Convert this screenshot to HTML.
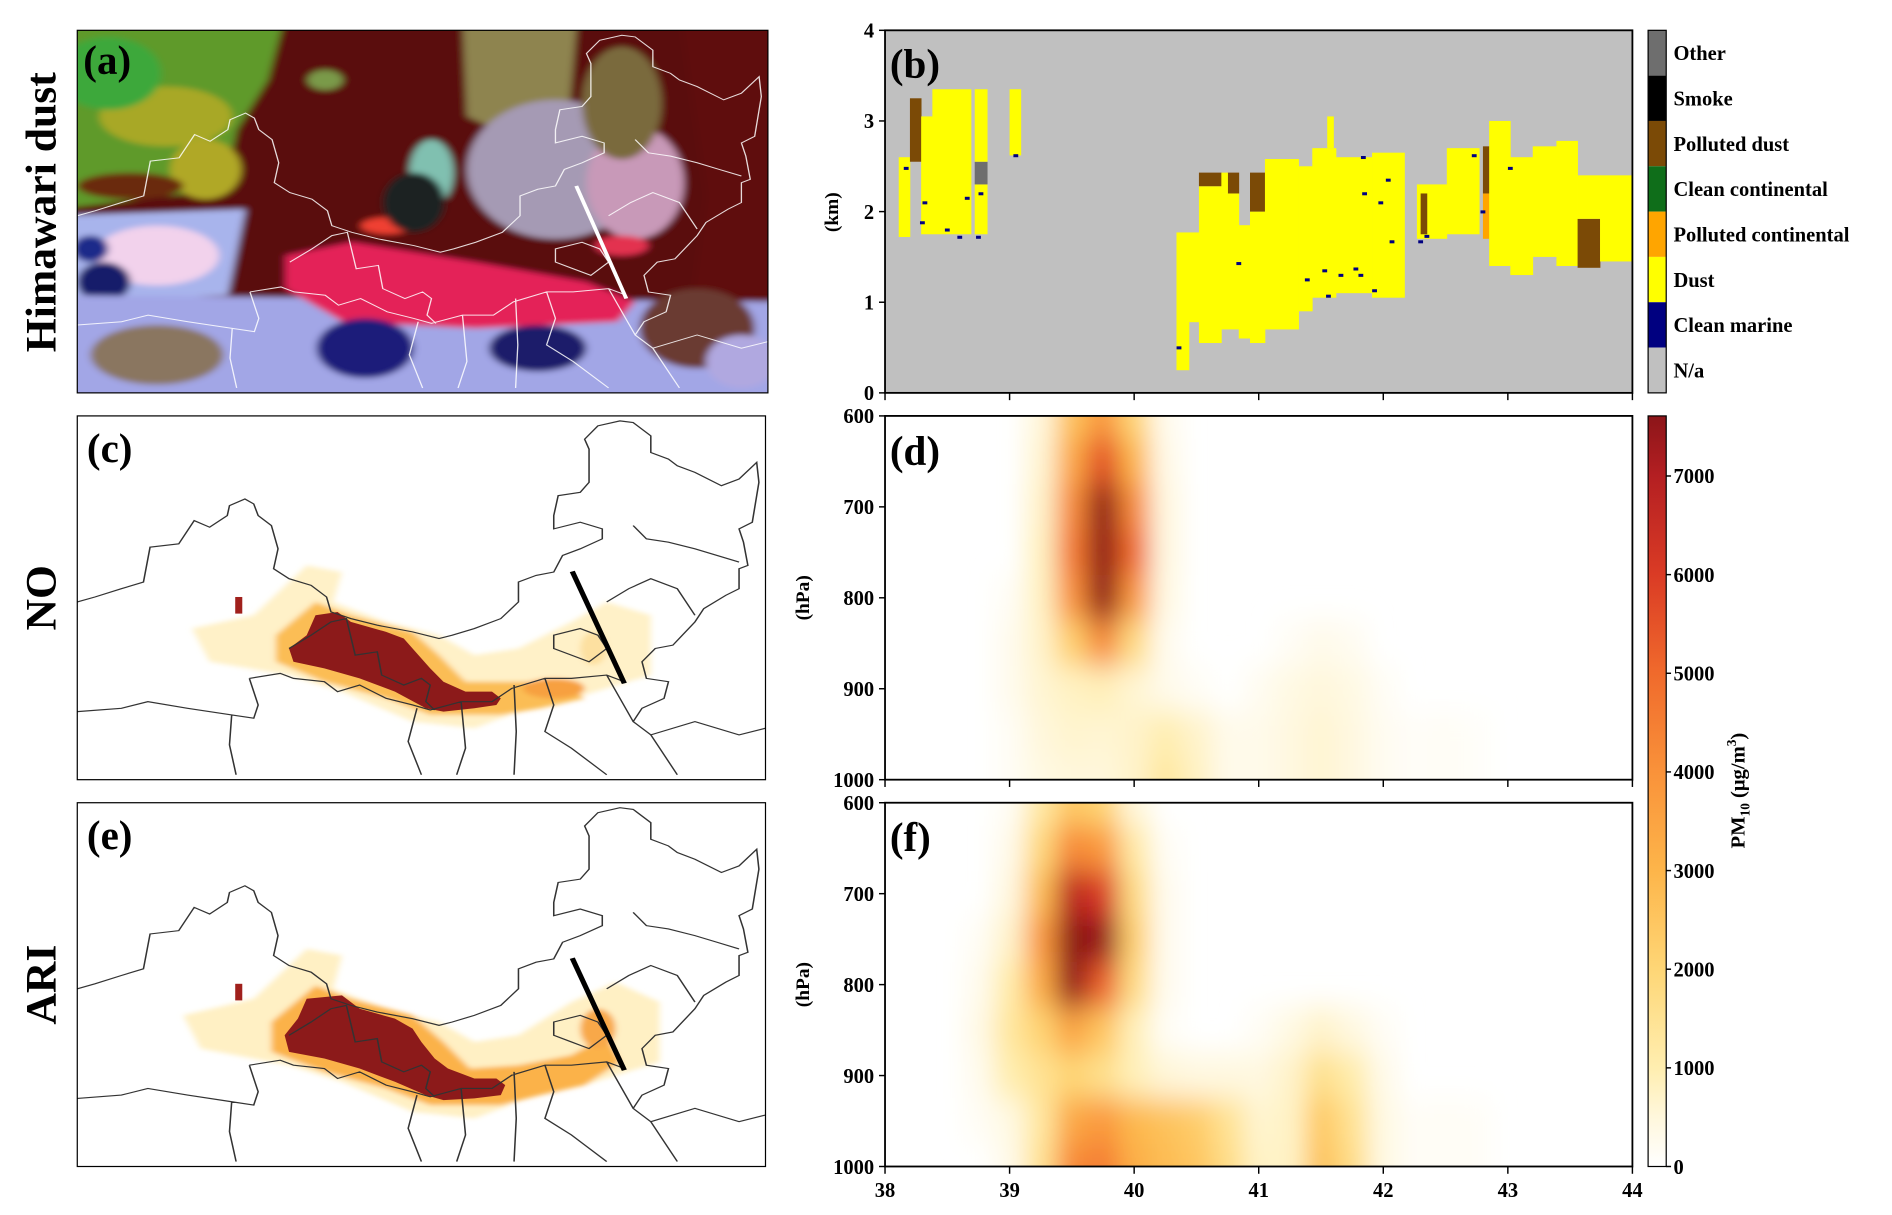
<!DOCTYPE html>
<html><head><meta charset="utf-8"><style>
html,body{margin:0;padding:0;background:#fff;}
svg{display:block;font-family:"Liberation Serif",serif;font-weight:bold;}
</style></head><body>
<svg id="fig" width="1892" height="1215" viewBox="0 0 1567 1002" preserveAspectRatio="none" xmlns="http://www.w3.org/2000/svg">
<defs>
<filter id="blurSat" x="-5%" y="-5%" width="110%" height="110%"><feGaussianBlur stdDeviation="9"/></filter>
<filter id="blurHalo" x="-30%" y="-30%" width="160%" height="160%"><feGaussianBlur stdDeviation="7"/></filter>
<filter id="blurHeat" x="-10%" y="-10%" width="120%" height="120%"><feGaussianBlur stdDeviation="10 12"/></filter>
<clipPath id="clipA"><rect x="64" y="25" width="572" height="299"/></clipPath>
<clipPath id="clipC"><rect x="64" y="343" width="570" height="300"/></clipPath>
<clipPath id="clipE"><rect x="64" y="662" width="570" height="300"/></clipPath>
<clipPath id="clipD"><rect x="733" y="343" width="619" height="300"/></clipPath>
<clipPath id="clipF"><rect x="733" y="662" width="619" height="300"/></clipPath>
<linearGradient id="pmGrad" x1="0" y1="1" x2="0" y2="0">
<stop offset="0" stop-color="#ffffff"/><stop offset="0.066" stop-color="#fff7dc"/><stop offset="0.131" stop-color="#ffeeb0"/><stop offset="0.263" stop-color="#fed676"/><stop offset="0.394" stop-color="#fdb54a"/><stop offset="0.526" stop-color="#f9923a"/><stop offset="0.657" stop-color="#f06a2c"/><stop offset="0.789" stop-color="#da3b25"/><stop offset="0.92" stop-color="#b41f22"/><stop offset="1" stop-color="#8c1519"/>
</linearGradient>
<path id="chinaOutline" d="M0,560 L40,545 100,520 150,500 165,395 230,385 265,315 300,335 340,300 345,270 380,250 400,265 410,300 440,330 455,400 445,460 480,490 530,510 565,545 575,590 620,610 680,630 760,650 820,670 850,660 900,640 960,610 1000,560 1000,500 1040,480 1080,470 1100,420 1140,400 1190,370 1190,340 1140,320 1080,340 1080,300 1090,240 1140,230 1160,200 1160,100 1150,70 1180,30 1230,15 1260,20 1300,60 1300,110 1340,130 1360,150 1400,170 1460,210 1500,190 1540,140 1545,200 1530,320 1500,340 1510,380 1520,450 1500,460 1500,520 1470,540 1420,580 1400,620 1350,690 1310,700 1280,740 1290,790 1340,800 1330,850 1280,880 1260,920 1300,960 1320,1000 1360,1080 M390,790 L460,775 490,790 560,800 590,830 640,810 700,850 760,870 800,885 870,860 940,860 985,820 1060,790 1120,790 1200,780 1240,800 M0,890 L100,880 160,860 250,880 350,900 400,910 410,870 390,790 M350,900 L345,990 360,1080 M770,880 L750,980 780,1080 M990,810 L995,950 990,1080 M870,860 L880,1000 860,1080 M480,700 L530,660 575,620 610,610 630,720 680,710 690,780 740,810 780,790 800,810 790,860 810,885 M1260,330 L1290,370 1340,380 1400,400 1450,420 1500,440 M1200,560 L1250,520 1300,490 1360,520 1400,600 M1080,660 L1140,640 1180,660 1200,700 1160,740 1120,720 1080,700 Z M1060,790 L1080,870 1060,950 1120,1000 1200,1080 M1200,780 L1230,850 1260,920 M1300,960 L1400,920 1500,960 1560,940"/>
</defs>

<text x="46" y="175" font-size="36" text-anchor="middle" transform="rotate(-90 46 175)">Himawari dust</text>
<text x="46" y="493" font-size="36" text-anchor="middle" transform="rotate(-90 46 493)">NO</text>
<text x="46" y="812" font-size="36" text-anchor="middle" transform="rotate(-90 46 812)">ARI</text>

<g clip-path="url(#clipA)">
<g transform="translate(64,25) scale(0.3667,0.2731)">
<g filter="url(#blurSat)">
<rect x="-50" y="-50" width="1660" height="1200" fill="#5a0c0c"/>
<polygon points="-50,-50 470,-50 430,150 360,300 330,480 -50,540" fill="#5e9a2a"/>
<ellipse cx="200" cy="260" rx="150" ry="90" fill="#a8a828"/>
<ellipse cx="70" cy="130" rx="120" ry="110" fill="#3ea83a"/>
<ellipse cx="290" cy="420" rx="80" ry="90" fill="#b0a828"/>
<ellipse cx="120" cy="470" rx="120" ry="40" fill="#6a2a10"/>
<polygon points="870,-50 1130,-50 1110,250 1000,330 880,260" fill="#8e8450"/>
<ellipse cx="1080" cy="420" rx="200" ry="210" fill="#a59ab4"/>
<ellipse cx="1260" cy="460" rx="110" ry="170" fill="#c899b8"/>
<ellipse cx="1230" cy="220" rx="90" ry="170" fill="#7a6a3c"/>
<polygon points="1360,-50 1610,-50 1610,900 1380,900 1420,500" fill="#5e1010"/>
<polygon points="-50,560 380,540 340,800 -50,820" fill="#a8b4ec"/>
<ellipse cx="180" cy="680" rx="140" ry="90" fill="#f2d2ec"/>
<ellipse cx="60" cy="760" rx="60" ry="60" fill="#141e6a"/>
<ellipse cx="30" cy="660" rx="40" ry="40" fill="#1c2a8a"/>
<polygon points="-50,800 1610,820 1610,1150 -50,1150" fill="#a2a6e6"/>
<ellipse cx="180" cy="980" rx="150" ry="90" fill="#8a7660"/>
<polygon points="470,680 620,640 900,700 1150,760 1260,820 1220,880 900,900 600,880 470,780" fill="#e42058"/>
<ellipse cx="700" cy="590" rx="60" ry="25" fill="#f04030"/>
<ellipse cx="1230" cy="650" rx="60" ry="30" fill="#e33050"/>
<ellipse cx="650" cy="960" rx="110" ry="90" fill="#1a1a7a"/>
<ellipse cx="1040" cy="960" rx="110" ry="70" fill="#1a1a6a"/>
<ellipse cx="800" cy="430" rx="50" ry="100" fill="#80c0b0"/>
<ellipse cx="760" cy="520" rx="70" ry="90" fill="#1a2020"/>
<ellipse cx="1400" cy="900" rx="130" ry="120" fill="#6a3a30"/>
<ellipse cx="1500" cy="1000" rx="80" ry="80" fill="#b0a8e0"/>
<ellipse cx="560" cy="150" rx="40" ry="30" fill="#7a9a4a"/>
</g>
<use href="#chinaOutline" fill="none" stroke="#ffffff" stroke-width="3" opacity="0.85"/>
<line x1="1127" y1="470" x2="1240" y2="810" stroke="#ffffff" stroke-width="9"/>
</g>
</g>
<rect x="64" y="25" width="572" height="299" fill="none" stroke="#000" stroke-width="1"/>
<text x="69" y="61" font-size="34">(a)</text>

<g clip-path="url(#clipC)">
<rect x="64" y="343" width="570" height="300" fill="#fff"/>
<g transform="translate(64,343) scale(0.3654,0.274)">
<g filter="url(#blurHalo)">
<polygon points="260,640 400,600 520,450 600,470 580,560 700,620 820,660 900,720 1000,700 1120,620 1200,560 1300,600 1300,780 1150,840 1000,860 980,900 900,940 760,920 600,830 480,780 300,740" fill="#fff1c8"/>
<polygon points="450,660 540,560 620,600 760,650 820,720 880,800 1000,800 1100,800 1150,850 1050,880 960,900 800,900 700,850 560,800 450,740" fill="#fbbd55"/>
<ellipse cx="1080" cy="820" rx="70" ry="30" fill="#f7a040"/>
<ellipse cx="1170" cy="700" rx="30" ry="50" fill="#fde0a0"/>
</g>
<polygon points="540,600 590,590 620,620 700,650 740,670 760,700 800,760 830,800 880,830 940,830 960,850 950,870 900,880 830,890 790,880 720,830 640,790 560,760 490,740 480,700 520,660" fill="#8c1a1a"/>
<rect x="358" y="545" width="16" height="50" fill="#a0201c"/>
<use href="#chinaOutline" fill="none" stroke="#333" stroke-width="3.5"/>
<line x1="1122" y1="468" x2="1240" y2="805" stroke="#000" stroke-width="12"/>
</g>
</g>
<rect x="64" y="343" width="570" height="300" fill="none" stroke="#000" stroke-width="1"/>
<text x="72" y="381" font-size="34">(c)</text>

<g clip-path="url(#clipE)">
<rect x="64" y="662" width="570" height="300" fill="#fff"/>
<g transform="translate(64,662) scale(0.3654,0.274)">
<g filter="url(#blurHalo)">
<polygon points="240,640 400,590 520,440 600,460 580,560 700,620 820,660 900,720 1000,700 1120,600 1220,540 1320,600 1320,780 1150,850 1000,870 980,910 900,950 760,930 600,840 480,790 280,740" fill="#fff0c4"/>
<polygon points="440,660 540,550 620,590 760,640 830,720 890,800 1000,790 1120,760 1200,700 1230,780 1150,850 1050,880 960,910 800,910 700,860 560,810 440,750" fill="#fbb24a"/>
<ellipse cx="1180" cy="680" rx="40" ry="60" fill="#f8a848"/>
</g>
<polygon points="520,590 600,580 640,620 720,650 760,680 780,720 810,770 840,800 900,830 950,830 970,850 960,880 900,890 830,895 790,880 720,840 640,800 560,770 480,750 470,700 500,650" fill="#8c1a1a"/>
<rect x="358" y="545" width="16" height="50" fill="#a0201c"/>
<use href="#chinaOutline" fill="none" stroke="#333" stroke-width="3.5"/>
<line x1="1122" y1="468" x2="1240" y2="805" stroke="#000" stroke-width="12"/>
</g>
</g>
<rect x="64" y="662" width="570" height="300" fill="none" stroke="#000" stroke-width="1"/>
<text x="72" y="700" font-size="34">(e)</text>

<g id="panelB">
<rect x="733" y="25" width="619" height="299" fill="#c0c0c0"/>
<g id="bBars"></g>
<rect x="733" y="25" width="619" height="299" fill="none" stroke="#000" stroke-width="1.5"/>
<g id="bAxes"></g>
<text x="737" y="64" font-size="34">(b)</text>
<text x="694" y="175" font-size="16" text-anchor="middle" transform="rotate(-90 694 175)">(km)</text>
<g id="bLegend"></g>
</g>

<g id="panelD"></g>
<g id="panelF"></g>
<g id="labelsDF">
<text x="737" y="383" font-size="34">(d)</text>
<text x="737" y="702" font-size="34">(f)</text>
</g>
<text x="670" y="493" font-size="16" text-anchor="middle" transform="rotate(-90 670 493)">(hPa)</text>
<text x="670" y="812" font-size="16" text-anchor="middle" transform="rotate(-90 670 812)">(hPa)</text>

<g id="pmBar">
<rect x="1365" y="343" width="15" height="619" fill="url(#pmGrad)" stroke="#000" stroke-width="1"/>
</g>
<text x="1445" y="652" font-size="17" text-anchor="middle" transform="rotate(-90 1445 652)">PM<tspan font-size="11" dy="4">10</tspan><tspan dy="-4"> (μg/m</tspan><tspan font-size="11" dy="-7">3</tspan><tspan dy="7">)</tspan></text>
</svg>

<script>
// ===== Panel (b) data =====
const bLatStart = [38.11,38.20,38.29,38.38,38.72,38.72,38.72,39.00,40.34,40.44,40.52,40.52,40.70,40.75,40.70,40.84,40.93,40.93,41.05,41.32,41.43,41.55,41.62,41.91,42.27,42.30,42.51,42.80,42.80,42.85,43.02,43.20,43.39,43.56,43.56,43.74];
const bLatEnd   = [38.20,38.29,38.38,38.69,38.82,38.82,38.82,39.09,40.44,40.52,40.70,40.70,40.84,40.84,40.75,40.93,41.05,41.05,41.32,41.43,41.62,41.60,41.91,42.17,42.51,42.35,42.77,42.85,42.85,43.02,43.20,43.39,43.56,43.74,43.74,44.00];
const bBottom   = [1.72,2.55,1.75,1.75,1.75,2.30,2.55,2.62,0.25,0.78,0.55,2.28,0.70,2.20,2.20,0.60,0.55,2.00,0.70,0.90,1.05,2.70,1.10,1.05,1.70,1.75,1.75,1.70,2.20,1.40,1.30,1.50,1.40,1.38,1.92,1.45];
const bTop      = [2.60,3.25,3.05,3.35,2.30,2.55,3.35,3.35,1.77,1.77,2.28,2.43,2.20,2.43,2.43,1.85,2.00,2.43,2.58,2.50,2.70,3.05,2.60,2.65,2.30,2.20,2.70,2.20,2.72,3.00,2.60,2.72,2.78,1.92,2.40,2.40];
const bType     = ["Dust","Polluted dust","Dust","Dust","Dust","Other","Dust","Dust","Dust","Dust","Dust","Polluted dust","Dust","Polluted dust","Dust","Dust","Dust","Polluted dust","Dust","Dust","Dust","Dust","Dust","Dust","Dust","Polluted dust","Dust","Polluted continental","Polluted dust","Dust","Dust","Dust","Dust","Polluted dust","Dust","Dust"];
const markerLat = [38.17,38.30,38.32,38.50,38.60,38.66,38.75,38.77,39.05,40.36,40.84,41.39,41.53,41.56,41.66,41.78,41.84,41.85,41.82,41.93,41.98,42.04,42.07,42.30,42.35,42.80,42.73,43.02];
const markerKm  = [2.48,1.88,2.10,1.80,1.72,2.15,1.72,2.20,2.62,0.50,1.43,1.25,1.35,1.07,1.30,1.37,2.60,2.20,1.30,1.13,2.10,2.35,1.67,1.67,1.73,2.00,2.62,2.48];
const legendTypes  = ["Other","Smoke","Polluted dust","Clean continental","Polluted continental","Dust","Clean marine","N/a"];
const legendColors = ["#6e6e6e","#000000","#7b4a06","#0f6e1a","#ffa500","#ffff00","#000080","#c0c0c0"];
const bYTicks = [0,1,2,3,4];
const xTicks = [38,39,40,41,42,43,44];

// ===== Panels (d)/(f) data =====
const gridLat = [38.5,38.75,39.0,39.25,39.5,39.75,40.0,40.25,40.5,40.75,41.0,41.25,41.5,41.75,42.0,42.25,42.5,42.75,43.0];
const gridP = [600,650,700,750,800,850,900,950,1000];
const pmNO = [
[0,0,0,500,2600,3800,2000,250,0,0,0,0,0,0,0,0,0,0,0],
[0,0,0,600,3400,5600,3000,350,0,0,0,0,0,0,0,0,0,0,0],
[0,0,0,700,4200,8500,4200,450,0,0,0,0,0,0,0,0,0,0,0],
[0,0,0,800,4600,9800,5000,450,0,0,0,0,0,0,0,0,0,0,0],
[0,0,150,800,4000,8400,3800,400,0,0,0,0,0,0,0,0,0,0,0],
[0,0,250,700,2200,4200,1800,250,0,0,0,150,300,200,0,0,0,0,0],
[0,0,250,600,800,900,600,300,150,0,200,400,500,400,150,0,0,0,0],
[0,0,150,500,650,600,700,1000,700,300,300,450,600,450,200,100,150,80,0],
[0,0,150,400,500,500,700,1300,800,300,300,450,600,450,200,100,150,80,0]];
const pmARI = [
[0,0,150,1200,2400,2000,500,0,0,0,0,0,0,0,0,0,0,0,0],
[0,0,300,1900,4200,3800,1200,150,0,0,0,0,0,0,0,0,0,0,0],
[0,0,450,2800,6800,6000,1800,250,0,0,0,0,0,0,0,0,0,0,0],
[0,150,700,3800,10500,7500,2200,250,0,0,0,0,0,0,0,0,0,0,0],
[0,250,1100,3300,7500,5200,1800,250,0,0,0,0,0,0,0,0,0,0,0],
[0,350,1300,2100,3500,2500,900,150,0,0,150,400,700,450,150,0,0,0,0],
[0,250,1000,1500,2000,1600,900,550,450,450,450,700,1600,1100,300,0,0,0,0],
[0,150,400,1300,3400,3800,2900,2600,2300,1500,650,750,2400,1500,400,120,150,120,0],
[0,0,300,1500,4200,4500,3200,2800,2500,1700,750,750,2600,1700,400,120,150,120,0]];
const pmTicks = [0,1000,2000,3000,4000,5000,6000,7000];
const pYTicks = [600,700,800,900,1000];

const NS = "http://www.w3.org/2000/svg";
function mk(tag, attrs, parent){const e=document.createElementNS(NS,tag);for(const k in attrs)e.setAttribute(k,attrs[k]);parent.appendChild(e);return e;}
const typeColor = {};
legendTypes.forEach((t,i)=>typeColor[t]=legendColors[i]);

const bL=733,bR=1352,bT=25,bB=324;
function bx(lat){return bL+(lat-38)/6*(bR-bL);}
function by(km){return bB-km/4*(bB-bT);}

const bBars=document.getElementById('bBars');
for(let i=0;i<bLatStart.length;i++){
  const r=mk('rect',{x:bx(bLatStart[i]),y:by(bTop[i]),width:bx(bLatEnd[i])-bx(bLatStart[i])+0.3,height:by(bBottom[i])-by(bTop[i]),fill:typeColor[bType[i]]},bBars);
  
  
}
for(let i=0;i<markerLat.length;i++){
  const r=mk('rect',{x:bx(markerLat[i])-2,y:by(markerKm[i])-1,width:4,height:2.5,fill:'#000080'},bBars);
  
  
}
const bAxes=document.getElementById('bAxes');
bYTicks.forEach(v=>{
  const l=mk('line',{x1:bL-5,x2:bL,y1:by(v),y2:by(v),stroke:'#000','stroke-width':1.2},bAxes);
  
  
  const t=mk('text',{x:bL-9,y:by(v)+6,'font-size':17,'text-anchor':'end'},bAxes);
  t.textContent=v;
  
  
});
xTicks.forEach(v=>{
  const l=mk('line',{x1:bx(v),x2:bx(v),y1:bB,y2:bB+6,stroke:'#000','stroke-width':1.2},bAxes);
  
  
});
const bLeg=document.getElementById('bLegend');
const segH=(bB-bT)/legendTypes.length;
legendTypes.forEach((t,i)=>{
  const r=mk('rect',{x:1365,y:bT+i*segH,width:15,height:segH,fill:legendColors[i]},bLeg);
  
  
  const tx=mk('text',{x:1386,y:bT+i*segH+segH/2+6,'font-size':17},bLeg);
  tx.textContent=t;
  
  
});
mk('rect',{x:1365,y:bT,width:15,height:bB-bT,fill:'none',stroke:'#000','stroke-width':1},bLeg);

const cStops=[[0,[255,255,255]],[500,[255,247,220]],[1000,[255,238,176]],[2000,[254,214,118]],[3000,[253,181,74]],[4000,[249,146,58]],[5000,[240,106,44]],[6000,[218,59,37]],[7000,[180,31,34]],[7600,[140,21,25]]];
function pmColor(v){
  if(v<=0)return 'rgb(255,255,255)';
  for(let i=1;i<cStops.length;i++){
    if(v<=cStops[i][0]){const a=cStops[i-1],b=cStops[i];const f=(v-a[0])/(b[0]-a[0]);
      const c=a[1].map((x,k)=>Math.round(x+(b[1][k]-x)*f));return 'rgb('+c.join(',')+')';}
  }
  return 'rgb(140,21,25)';
}
function drawHeat(gid, top, data, clip, tag){
  const g=document.getElementById(gid);
  const L=733,R=1352,H=300;
  const px=lat=>L+(lat-38)/6*(R-L);
  const py=p=>top+(p-600)/400*H;
  mk('rect',{x:L,y:top,width:R-L,height:H,fill:'#fff'},g);
  const cg=mk('g',{'clip-path':'url(#'+clip+')'},g);
  const hg=mk('g',{filter:'url(#blurHeat)'},cg);
  const dLat=0.25,dP=50;
  for(let r=0;r<gridP.length;r++){
    for(let c=0;c<gridLat.length;c++){
      const v=data[r][c]; if(v<=0)continue;
      let y0=py(gridP[r]-dP/2), y1=py(gridP[r]+dP/2);
      if(r===0)y0-=40; if(r===gridP.length-1)y1+=40;
      const cell=mk('rect',{x:px(gridLat[c]-dLat/2),y:y0,width:px(gridLat[c]+dLat/2)-px(gridLat[c]-dLat/2)+0.5,height:y1-y0+0.5,fill:pmColor(v)},hg);
      
      
    }
  }
  mk('rect',{x:L,y:top,width:R-L,height:H,fill:'none',stroke:'#000','stroke-width':1.5},g);
  pYTicks.forEach(p=>{
    const l=mk('line',{x1:L-5,x2:L,y1:py(p),y2:py(p),stroke:'#000','stroke-width':1.2},g);
    
    
    const t=mk('text',{x:L-9,y:py(p)+6,'font-size':17,'text-anchor':'end'},g);
    t.textContent=p;
    
    
  });
  xTicks.forEach(v=>{
    const l=mk('line',{x1:px(v),x2:px(v),y1:top+H,y2:top+H+6,stroke:'#000','stroke-width':1.2},g);
    
    
  });
}
drawHeat('panelD',343,pmNO,'clipD','panel-d');
drawHeat('panelF',662,pmARI,'clipF','panel-f');
const fg=document.getElementById('panelF');
xTicks.forEach(v=>{
  const t=mk('text',{x:733+(v-38)/6*619,y:987,'font-size':17,'text-anchor':'middle'},fg);
  t.textContent=v;
  
  
});
const pm=document.getElementById('pmBar');
pmTicks.forEach(v=>{
  const y=962-v/7609*619;
  const l=mk('line',{x1:1380,x2:1384,y1:y,y2:y,stroke:'#000','stroke-width':1.2},pm);
  
  
  const t=mk('text',{x:1386,y:y+6,'font-size':17},pm);
  t.textContent=v;
  
  
});
</script>
</body></html>
